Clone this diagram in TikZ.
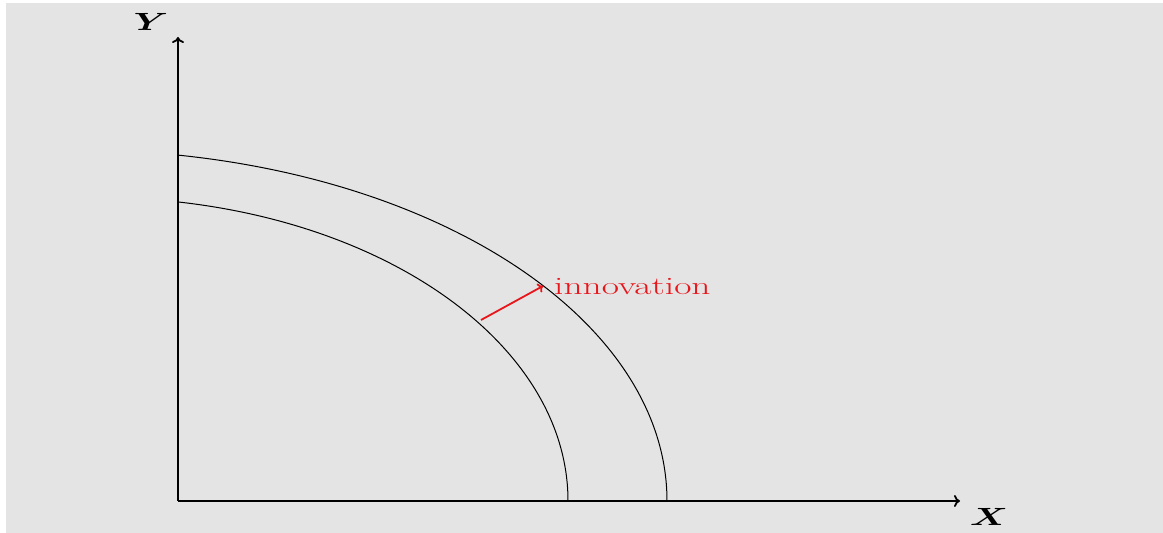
\documentclass[tikz,border=0pt]{standalone}
\usepackage{amsmath,bm}
\usetikzlibrary{arrows.meta}
\definecolor{bggrey}{HTML}{E4E4E4}
\definecolor{innored}{HTML}{E8151B}
\begin{document}
\begin{tikzpicture}[x=1pt,y=1pt,
  axis/.style={line width=1.8pt,-{To[length=6pt,width=12pt]}},
  ppf/.style={line width=1pt},
  shiftarrow/.style={line width=1.8pt,innored,-{To[length=5pt,width=10pt]}},
  lbl/.style={inner sep=0pt,font=\fontsize{23}{28}\selectfont}]
\useasboundingbox (0,0) rectangle (1163,533);
\fill[white] (0,0) rectangle (1163,533);
\fill[bggrey] (6,0) rectangle (1163,530);
\coordinate (O) at (178,32);
\coordinate (ytop) at (178,496);
\coordinate (xend) at (960,32);
\draw[axis] (O) -- (ytop);
\draw[axis] (O) -- (xend);
\node[lbl] (ylab) at (151,511) {\scalebox{1.5}[1]{$\bm{Y}$}};
\node[lbl] (xlab) at (989,16) {\scalebox{1.5}[1]{$\bm{X}$}};
% outer frontier
\draw[ppf] (78,32) ++(80.2:589 and 351) arc[start angle=80.2,end angle=0,x radius=589,y radius=351];
% inner frontier
\draw[ppf] (98,32) ++(80.2:470 and 303.5) arc[start angle=80.2,end angle=0,x radius=470,y radius=303.5];
\coordinate (atail) at (481,213);
\coordinate (ahead) at (543,247);
\draw[shiftarrow] (atail) -- (ahead);
\node[lbl,anchor=base west,text=innored,font=\fontsize{25}{30}\selectfont] (inn) at (554,238) {\scalebox{1.5}[1]{innovation}};
\end{tikzpicture}
\end{document}
